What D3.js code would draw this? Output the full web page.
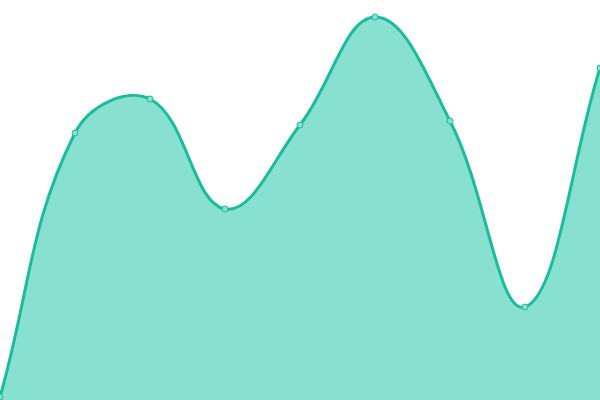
<!DOCTYPE html>
<html>
<head>
<meta charset="utf-8">
<script src="https://cdn.jsdelivr.net/npm/d3@7"></script>
<style>
  html, body { margin: 0; padding: 0; background: #fff; }
  svg { display: block; }
</style>
</head>
<body>
<div id="chart"></div>
<script>
const labels = [0, 1, 2, 3, 4, 5, 6, 7, 8];
const values = [3, 267, 301, 191, 275, 383, 279, 93, 332];

const width = 600;
const height = 400;

// spline with distance-weighted control points (tension 0.4), clamped to the plot
function SplineCurve(context) { this._context = context; }
SplineCurve.prototype = {
    areaStart() { this._line = 0; },
    areaEnd() { this._line = NaN; },
    lineStart() { this._pts = []; },
    point(px, py) { this._pts.push([+px, +py]); },
    lineEnd() {
        const p = this._pts, n = p.length, c = this._context, t = 0.4;
        if (n) {
            if (this._line) c.lineTo(p[0][0], p[0][1]);
            else c.moveTo(p[0][0], p[0][1]);
            const prev = [], next = [];
            const clamp = q => [Math.max(0, Math.min(width, q[0])), Math.max(0, Math.min(height, q[1]))];
            for (let i = 0; i < n; i++) {
                const a = p[Math.max(i - 1, 0)], b = p[i], e = p[Math.min(i + 1, n - 1)];
                const d01 = Math.hypot(b[0] - a[0], b[1] - a[1]);
                const d12 = Math.hypot(e[0] - b[0], e[1] - b[1]);
                let s01 = d01 / (d01 + d12), s12 = d12 / (d01 + d12);
                if (isNaN(s01)) s01 = 0;
                if (isNaN(s12)) s12 = 0;
                const fa = t * s01, fb = t * s12;
                prev.push(clamp([b[0] - fa * (e[0] - a[0]), b[1] - fa * (e[1] - a[1])]));
                next.push(clamp([b[0] + fb * (e[0] - a[0]), b[1] + fb * (e[1] - a[1])]));
            }
            for (let i = 1; i < n; i++) {
                c.bezierCurveTo(next[i - 1][0], next[i - 1][1], prev[i][0], prev[i][1], p[i][0], p[i][1]);
            }
        }
        if (this._line || (this._line !== 0 && n === 1)) c.closePath();
        this._line = 1 - this._line;
    }
};
const curve = context => new SplineCurve(context);

const x = d3.scaleLinear()
    .domain([0, labels.length - 1])
    .range([0, width]);

const y = d3.scaleLinear()
    .domain([0, 400])
    .range([height, 0]);

const svg = d3.select("#chart")
    .append("svg")
    .attr("width", width)
    .attr("height", height);

const data = labels.map((d, i) => ({ i: d, value: values[i] }));

const area = d3.area()
    .x(d => x(d.i))
    .y0(height)
    .y1(d => y(d.value))
    .curve(curve);

const line = d3.line()
    .x(d => x(d.i))
    .y(d => y(d.value))
    .curve(curve);

svg.append("path")
    .datum(data)
    .attr("fill", "#88e0d0")
    .attr("d", area);

svg.append("path")
    .datum(data)
    .attr("fill", "none")
    .attr("stroke", "#1abc9c")
    .attr("stroke-width", 3)
    .attr("d", line);

svg.selectAll("circle")
    .data(data)
    .join("circle")
    .attr("cx", d => x(d.i))
    .attr("cy", d => y(d.value))
    .attr("r", 3)
    .attr("fill", "#88e0d0")
    .attr("stroke", "#1abc9c")
    .attr("stroke-width", 1);
</script>
</body>
</html>
